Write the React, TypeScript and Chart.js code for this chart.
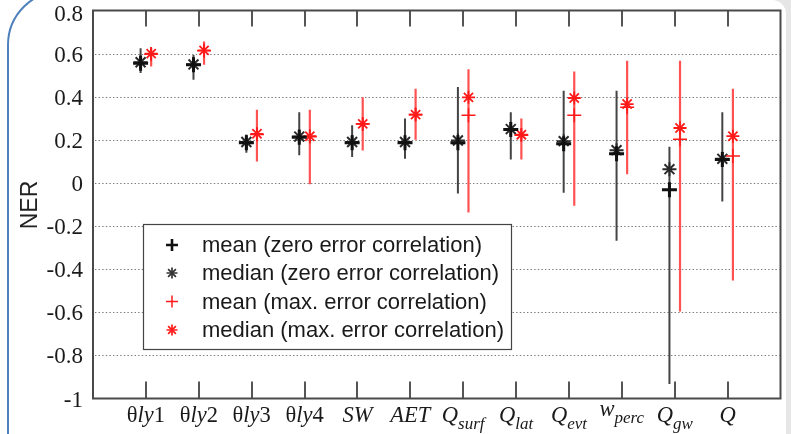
import React, { useEffect, useRef } from "react";
import { Chart, registerables } from "chart.js";
Chart.register(...registerables);

// x category labels as styled text segments (i = italic, s = subscript)
type Seg = { t: string; i?: boolean; s?: boolean };
const categoryLabels: Seg[][] = [
  [{ t: "θ" }, { t: "ly", i: true }, { t: "1" }],
  [{ t: "θ" }, { t: "ly", i: true }, { t: "2" }],
  [{ t: "θ" }, { t: "ly", i: true }, { t: "3" }],
  [{ t: "θ" }, { t: "ly", i: true }, { t: "4" }],
  [{ t: "SW", i: true }],
  [{ t: "AET", i: true }],
  [{ t: "Q", i: true }, { t: "surf", i: true, s: true }],
  [{ t: "Q", i: true }, { t: "lat", i: true, s: true }],
  [{ t: "Q", i: true }, { t: "evt", i: true, s: true }],
  [{ t: "w", i: true }, { t: "perc", i: true, s: true }],
  [{ t: "Q", i: true }, { t: "gw", i: true, s: true }],
  [{ t: "Q", i: true }],
];

// zero error correlation (black)
const meanZero = [0.555, 0.548, 0.186, 0.212, 0.186, 0.186, 0.186, 0.248, 0.182, 0.135, -0.031, 0.109];
const medianZero = [0.56, 0.55, 0.19, 0.215, 0.19, 0.19, 0.197, 0.25, 0.194, 0.152, 0.064, 0.112];
const lowZero = [0.51, 0.479, 0.14, 0.129, 0.12, 0.112, -0.049, 0.109, -0.045, -0.268, -0.933, -0.086];
const highZero = [0.625, 0.594, 0.225, 0.328, 0.268, 0.299, 0.445, 0.328, 0.428, 0.428, 0.168, 0.328];

// max. error correlation (red)
const meanMax = [0.597, 0.613, 0.225, 0.215, 0.274, 0.317, 0.314, 0.222, 0.314, 0.351, 0.203, 0.125];
const medianMax = [0.6, 0.615, 0.228, 0.217, 0.274, 0.317, 0.397, 0.224, 0.394, 0.366, 0.255, 0.217];
const lowMax = [0.54, 0.548, 0.1, -0.006, 0.151, 0.2, -0.137, 0.109, -0.106, 0.04, -0.596, -0.453];
const highMax = [0.625, 0.656, 0.34, 0.34, 0.397, 0.437, 0.528, 0.299, 0.517, 0.567, 0.567, 0.437];

const yTicks = [-1, -0.8, -0.6, -0.4, -0.2, 0, 0.2, 0.4, 0.6, 0.8];
const yTickLabels = ["-1", "-0.8", "-0.6", "-0.4", "-0.2", "0", "0.2", "0.4", "0.6", "0.8"];
const yTitle = "NER";
const legendLabels = [
  "mean (zero error correlation)",
  "median (zero error correlation)",
  "mean (max. error correlation)",
  "median (max. error correlation)",
];

const BLACK = "#111111";
const BLACK_BAR = "#444444";
const RED = "#ff1a1a";
const RED_BAR = "#ff5252";
const OFF = 0.1;

function plus(ctx: CanvasRenderingContext2D, x: number, y: number, r: number, c: string, lw: number) {
  ctx.save();
  ctx.strokeStyle = c;
  ctx.lineWidth = lw;
  ctx.beginPath();
  ctx.moveTo(x - r, y);
  ctx.lineTo(x + r, y);
  ctx.moveTo(x, y - r);
  ctx.lineTo(x, y + r);
  ctx.stroke();
  ctx.restore();
}
function star(ctx: CanvasRenderingContext2D, x: number, y: number, r: number, c: string, lw: number) {
  plus(ctx, x, y, r, c, lw);
  const d = r * 0.707;
  ctx.save();
  ctx.strokeStyle = c;
  ctx.lineWidth = lw;
  ctx.beginPath();
  ctx.moveTo(x - d, y - d);
  ctx.lineTo(x + d, y + d);
  ctx.moveTo(x - d, y + d);
  ctx.lineTo(x + d, y - d);
  ctx.stroke();
  ctx.restore();
}

export default function App() {
  const ref = useRef<HTMLCanvasElement>(null);
  useEffect(() => {
    const canvas = ref.current!;
    const barData = (lo: number[], hi: number[], off: number) =>
      lo.flatMap((l, i) => [
        { x: i + 1 + off, y: l },
        { x: i + 1 + off, y: hi[i] },
        { x: i + 1 + off, y: null as any },
      ]);
    const pts = (v: number[], off: number) => v.map((y, i) => ({ x: i + 1 + off, y }));

    const deco = {
      id: "deco",
      beforeDatasetsDraw(chart: any) {
        const ctx: CanvasRenderingContext2D = chart.ctx;
        const { left, right, top, bottom } = chart.chartArea;
        const xs = chart.scales.x;
        const ys = chart.scales.y;
        ctx.save();
        // dotted grid
        ctx.strokeStyle = "#7a7a7a";
        ctx.lineWidth = 1.2;
        ctx.setLineDash([1.4, 2.2]);
        yTicks.forEach((v) => {
          const y = Math.round(ys.getPixelForValue(v)) + 0.5;
          if (v <= -1 || v >= 0.8) return;
          ctx.beginPath();
          ctx.moveTo(left + 2, y);
          ctx.lineTo(right - 1, y);
          ctx.stroke();
        });
        ctx.setLineDash([]);
        // x ticks inward top and bottom
        ctx.strokeStyle = "#555";
        ctx.lineWidth = 2;
        categoryLabels.forEach((_, i) => {
          const x = Math.round(xs.getPixelForValue(i + 1));
          ctx.beginPath();
          ctx.moveTo(x, top);
          ctx.lineTo(x, top + 16);
          ctx.moveTo(x, bottom);
          ctx.lineTo(x, bottom - 17);
          ctx.stroke();
        });
        // frame
        ctx.strokeStyle = "#4a4a4a";
        ctx.lineWidth = 2;
        ctx.strokeRect(left, top, right - left, bottom - top);
        ctx.restore();
      },
      afterDatasetsDraw(chart: any) {
        const ctx: CanvasRenderingContext2D = chart.ctx;
        const { left, top, bottom } = chart.chartArea;
        const xs = chart.scales.x;
        const ys = chart.scales.y;
        ctx.save();
        // y tick labels
        ctx.fillStyle = "#1a1a1a";
        ctx.font = "23px 'Liberation Serif'";
        ctx.textAlign = "right";
        ctx.textBaseline = "middle";
        yTicks.forEach((v, i) => {
          let y = ys.getPixelForValue(v) + 2;
          if (v >= 0.8) y += 2;
          ctx.fillText(yTickLabels[i], left - 10, y);
        });
        // y title
        ctx.save();
        ctx.translate(31, 205);
        ctx.rotate(-Math.PI / 2);
        ctx.textAlign = "center";
        ctx.textBaseline = "middle";
        ctx.font = "23px 'Liberation Sans'";
        ctx.fillStyle = "#222";
        ctx.fillText(yTitle, 0, 0);
        ctx.restore();
        // x labels
        ctx.textAlign = "left";
        ctx.textBaseline = "alphabetic";
        const fontOf = (s: Seg) =>
          `${s.i ? "italic " : ""}${s.s ? 17 : 22.5}px 'Liberation Serif'`;
        categoryLabels.forEach((segs, i) => {
          let w = 0;
          segs.forEach((s) => {
            ctx.font = fontOf(s);
            w += ctx.measureText(s.t).width;
          });
          const cx = xs.getPixelForValue(i + 1);
          let x = cx - w / 2;
          const raised = segs[0].t === "w";
          const base = raised ? 416 : 422;
          segs.forEach((s) => {
            ctx.font = fontOf(s);
            ctx.fillText(s.t, x, s.s ? base + 7 : base);
            x += ctx.measureText(s.t).width;
          });
        });
        // legend
        const lx = 143.5, ly = 224.5, lw = 368, lh = 125;
        ctx.fillStyle = "#fff";
        ctx.fillRect(lx, ly, lw, lh);
        ctx.strokeStyle = "#444";
        ctx.lineWidth = 1.2;
        ctx.strokeRect(lx, ly, lw, lh);
        const rows = [245, 273, 301.5, 330];
        plus(ctx, 172, rows[0], 6, BLACK, 2.6);
        star(ctx, 172, rows[1], 5.5, "#333", 1.7);
        plus(ctx, 172, rows[2], 6, RED, 1.5);
        star(ctx, 172, rows[3], 5.5, RED, 1.7);
        ctx.fillStyle = "#1a1a1a";
        ctx.font = "22px 'Liberation Sans'";
        ctx.textBaseline = "middle";
        legendLabels.forEach((t, i) => ctx.fillText(t, 202, rows[i] + 1));
        ctx.restore();
      },
    };

    const chart = new Chart(canvas, {
      type: "scatter",
      data: {
        datasets: [
          {
            type: "line",
            data: barData(lowZero, highZero, -OFF),
            borderColor: BLACK_BAR,
            borderWidth: 2,
            pointRadius: 0,
            spanGaps: false,
            showLine: true,
            order: 5,
          } as any,
          {
            type: "line",
            data: barData(lowMax, highMax, OFF),
            borderColor: RED_BAR,
            borderWidth: 2.2,
            pointRadius: 0,
            spanGaps: false,
            showLine: true,
            order: 5,
          } as any,
          {
            data: pts(medianZero, -OFF),
            pointStyle: "star",
            pointRadius: 7,
            borderColor: "#2a2a2a",
            backgroundColor: "#2a2a2a",
            borderWidth: 2,
            order: 3,
          },
          {
            data: pts(meanZero, -OFF),
            pointStyle: "cross",
            pointRadius: 7.5,
            borderColor: BLACK,
            backgroundColor: BLACK,
            borderWidth: 3,
            order: 2,
          },
          {
            data: pts(medianMax, OFF),
            pointStyle: "star",
            pointRadius: 6.5,
            borderColor: RED,
            backgroundColor: RED,
            borderWidth: 1.8,
            order: 3,
          },
          {
            data: pts(meanMax, OFF),
            pointStyle: "cross",
            pointRadius: 7,
            borderColor: RED,
            backgroundColor: RED,
            borderWidth: 1.6,
            order: 2,
          },
        ],
      },
      options: {
        responsive: false,
        animation: false,
        devicePixelRatio: 1,
        layout: { padding: { top: 9, right: 9, left: 0, bottom: 0 } },
        plugins: { legend: { display: false }, tooltip: { enabled: false } },
        scales: {
          x: {
            type: "linear",
            min: 0,
            max: 13,
            grid: { display: false },
            border: { display: false },
            ticks: { display: false },
            afterFit: (s: any) => {
              s.height = 35.5;
            },
          },
          y: {
            min: -1,
            max: 0.8,
            grid: { display: false },
            border: { display: false },
            ticks: { display: false },
            afterBuildTicks: (s: any) => {
              s.ticks = yTicks.map((v) => ({ value: v }));
            },
            afterFit: (s: any) => {
              s.width = 93;
            },
          },
        },
      },
      plugins: [deco],
    } as any);
    return () => chart.destroy();
  }, []);

  return (
    <div style={{ position: "fixed", left: 0, top: 0, width: 791, height: 434, background: "#e6e6e6", overflow: "hidden" }}>
      <div style={{ position: "absolute", left: 0, top: 0, width: 786, height: 470, background: "#fff", borderTopRightRadius: 14 }} />
      <div
        style={{
          position: "absolute",
          left: 7,
          top: -10,
          width: 900,
          height: 520,
          border: "2px solid #4f81bd",
          borderRadius: 55,
          boxSizing: "border-box",
        }}
      />
      <canvas ref={ref} width={791} height={434} style={{ position: "absolute", left: 0, top: 0 }} />
    </div>
  );
}
